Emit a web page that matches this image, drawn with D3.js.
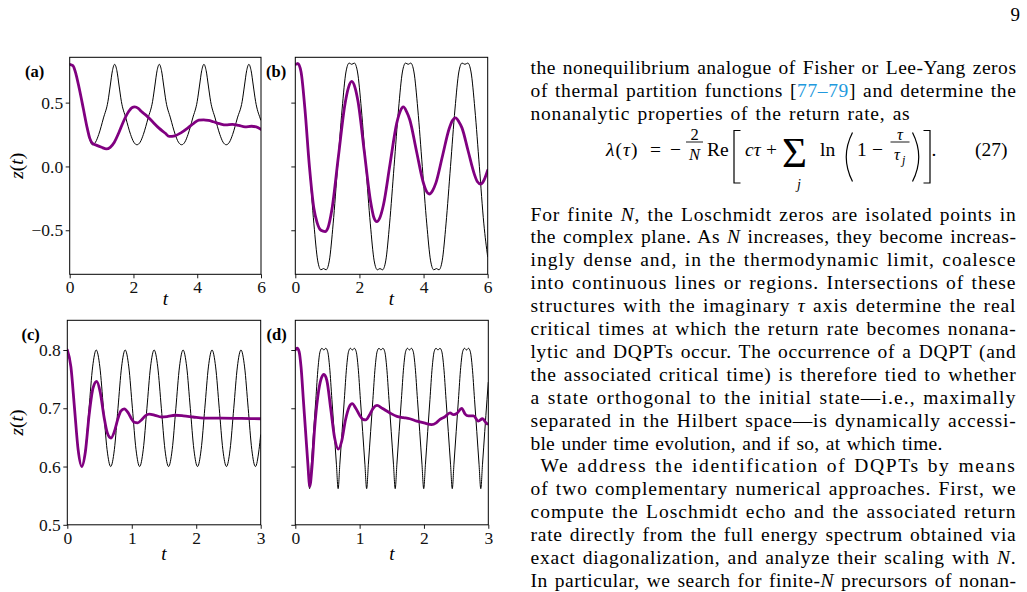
<!DOCTYPE html>
<html lang="en">
<head>
<meta charset="UTF-8" />
<title>z(t) panels</title>
<style>
  body { margin: 0; background: #fff; }
  svg text { font-family: "Liberation Serif", "Times New Roman", serif; }
</style>
</head>
<body>
<svg id="page" width="1027" height="592"></svg>
<script src="https://d3js.org/d3.v7.min.js"></script>
<script>
// ---- data: [t, z(t)] ----
var blackA = [[0,0.80],[0.1,0.79],[0.2,0.72],[0.3,0.61],[0.43,0.45],[0.55,0.30],[0.63,0.21],[0.71,0.17],
  [0.81,0.19],[0.91,0.25],[1.06,0.38],[1.20,0.51],[1.27,0.63],[1.34,0.75],[1.41,0.80],
  [1.48,0.75],[1.55,0.63],[1.62,0.51],[1.76,0.38],[1.91,0.25],[2.01,0.19],[2.11,0.17],
  [2.21,0.19],[2.31,0.25],[2.46,0.38],[2.60,0.51],[2.67,0.63],[2.74,0.75],[2.81,0.80],
  [2.88,0.75],[2.95,0.63],[3.02,0.51],[3.16,0.38],[3.31,0.25],[3.41,0.19],[3.51,0.17],
  [3.61,0.19],[3.71,0.25],[3.86,0.38],[4.00,0.51],[4.07,0.63],[4.14,0.75],[4.21,0.80],
  [4.28,0.75],[4.35,0.63],[4.42,0.51],[4.56,0.38],[4.71,0.25],[4.81,0.19],[4.91,0.17],
  [5.01,0.19],[5.11,0.25],[5.26,0.38],[5.41,0.51],[5.48,0.63],[5.55,0.75],[5.62,0.80],
  [5.69,0.75],[5.76,0.63],[5.83,0.51],[5.97,0.38],[6.0,0.36]];
var purpleA = [[0,0.80],[0.1,0.79],[0.2,0.72],[0.3,0.61],[0.43,0.45],[0.55,0.30],[0.63,0.22],[0.72,0.18],
  [0.85,0.165],[1.0,0.15],[1.15,0.138],[1.27,0.15],[1.4,0.19],[1.55,0.27],[1.7,0.36],[1.85,0.43],
  [1.95,0.46],[2.04,0.466],[2.15,0.455],[2.25,0.43],[2.4,0.40],[2.6,0.35],[2.8,0.30],[3.0,0.26],
  [3.12,0.235],[3.3,0.24],[3.5,0.265],[3.7,0.30],[3.9,0.34],[4.05,0.362],[4.2,0.365],[4.35,0.36],
  [4.5,0.35],[4.7,0.335],[4.9,0.325],[5.1,0.33],[5.3,0.322],[5.5,0.31],[5.7,0.315],[5.85,0.31],[6.0,0.29]];

var blackB = [[0,0.80],[0.08,0.81],[0.18,0.74],[0.30,0.45],[0.44,0],[0.58,-0.45],[0.70,-0.74],[0.80,-0.81],
  [0.88,-0.80],[0.96,-0.81],[1.06,-0.74],[1.18,-0.45],[1.32,0],[1.46,0.45],[1.58,0.74],[1.68,0.81],
  [1.76,0.80],[1.84,0.81],[1.94,0.74],[2.06,0.45],[2.20,0],[2.34,-0.45],[2.46,-0.74],[2.56,-0.81],
  [2.64,-0.80],[2.72,-0.81],[2.82,-0.74],[2.94,-0.45],[3.08,0],[3.22,0.45],[3.34,0.74],[3.44,0.81],
  [3.52,0.80],[3.60,0.81],[3.70,0.74],[3.82,0.45],[3.96,0],[4.10,-0.45],[4.22,-0.74],[4.32,-0.81],
  [4.40,-0.80],[4.48,-0.81],[4.58,-0.74],[4.70,-0.45],[4.84,0],[4.98,0.45],[5.10,0.74],[5.20,0.81],
  [5.29,0.80],[5.38,0.81],[5.48,0.74],[5.60,0.45],[5.74,0],[5.88,-0.45],[6.0,-0.71]];
var purpleB = [[0,0.80],[0.08,0.805],[0.18,0.74],[0.30,0.45],[0.44,0.0],[0.58,-0.33],[0.68,-0.44],[0.80,-0.50],
  [0.93,-0.51],[1.02,-0.48],[1.14,-0.34],[1.345,0.08],[1.55,0.49],[1.66,0.62],[1.76,0.666],[1.86,0.62],
  [1.955,0.51],[2.15,0.12],[2.345,-0.27],[2.45,-0.40],[2.54,-0.433],[2.64,-0.40],[2.75,-0.30],[2.955,0.02],
  [3.16,0.335],[3.27,0.43],[3.37,0.466],[3.47,0.43],[3.57,0.366],[3.775,0.125],[3.98,-0.116],[4.08,-0.19],
  [4.18,-0.216],[4.28,-0.19],[4.385,-0.129],[4.59,0.082],[4.795,0.293],[4.90,0.36],[5.00,0.38],[5.10,0.35],
  [5.195,0.304],[5.39,0.121],[5.585,-0.062],[5.68,-0.12],[5.78,-0.138],[5.88,-0.11],[6.0,-0.03]];

var blackC = [[0,0.80],[0.056,0.771],[0.112,0.70],[0.168,0.629],[0.224,0.60],[0.281,0.629],[0.337,0.70],[0.393,0.771],
  [0.449,0.80],[0.505,0.771],[0.561,0.70],[0.617,0.629],[0.673,0.60],[0.730,0.629],[0.786,0.70],[0.842,0.771],
  [0.898,0.80],[0.954,0.771],[1.010,0.70],[1.066,0.629],[1.122,0.60],[1.178,0.629],[1.235,0.70],[1.291,0.771],
  [1.347,0.80],[1.403,0.771],[1.459,0.70],[1.515,0.629],[1.571,0.60],[1.627,0.629],[1.684,0.70],[1.740,0.771],
  [1.796,0.80],[1.852,0.771],[1.908,0.70],[1.964,0.629],[2.020,0.60],[2.076,0.629],[2.133,0.70],[2.189,0.771],
  [2.245,0.80],[2.301,0.771],[2.357,0.70],[2.413,0.629],[2.469,0.60],[2.525,0.629],[2.582,0.70],[2.638,0.771],
  [2.694,0.80],[2.750,0.771],[2.806,0.70],[2.862,0.629],[2.918,0.60],[2.974,0.629],[3.0,0.655]];
var purpleC = [[0,0.80],[0.056,0.771],[0.112,0.70],[0.168,0.629],[0.224,0.60],[0.28,0.625],[0.34,0.69],[0.40,0.735],
  [0.456,0.746],[0.51,0.728],[0.57,0.685],[0.62,0.658],[0.678,0.649],[0.73,0.66],[0.78,0.68],[0.83,0.695],
  [0.884,0.699],[0.94,0.693],[0.99,0.683],[1.04,0.676],[1.09,0.675],[1.15,0.68],[1.21,0.687],[1.27,0.690],
  [1.36,0.688],[1.46,0.685],[1.56,0.686],[1.67,0.688],[1.80,0.687],[1.95,0.685],[2.11,0.683],[2.4,0.683],
  [2.7,0.6825],[3.0,0.682]];

var blackD = [[0,0.80],[0.03,0.803],[0.06,0.797],[0.09,0.77],[0.125,0.715],[0.16,0.66],[0.195,0.604],[0.222,0.562],
  [0.249,0.604],[0.284,0.66],[0.319,0.715],[0.354,0.77],[0.384,0.797],[0.414,0.803],[0.444,0.80],[0.474,0.803],[0.504,0.797],[0.534,0.77],[0.569,0.715],[0.604,0.66],[0.639,0.604],[0.666,0.562],
  [0.692,0.604],[0.727,0.66],[0.762,0.715],[0.797,0.77],[0.827,0.797],[0.857,0.803],[0.887,0.80],[0.917,0.803],[0.947,0.797],[0.977,0.77],[1.012,0.715],[1.047,0.66],[1.082,0.604],[1.109,0.562],
  [1.136,0.604],[1.171,0.66],[1.206,0.715],[1.241,0.77],[1.271,0.797],[1.301,0.803],[1.331,0.80],[1.361,0.803],[1.391,0.797],[1.421,0.77],[1.456,0.715],[1.491,0.66],[1.526,0.604],[1.553,0.562],
  [1.579,0.604],[1.614,0.66],[1.649,0.715],[1.684,0.77],[1.714,0.797],[1.744,0.803],[1.774,0.80],[1.804,0.803],[1.834,0.797],[1.864,0.77],[1.899,0.715],[1.934,0.66],[1.969,0.604],[1.996,0.562],
  [2.023,0.604],[2.058,0.66],[2.093,0.715],[2.128,0.77],[2.158,0.797],[2.188,0.803],[2.218,0.80],[2.248,0.803],[2.278,0.797],[2.308,0.77],[2.343,0.715],[2.378,0.66],[2.413,0.604],[2.440,0.562],
  [2.466,0.604],[2.501,0.66],[2.536,0.715],[2.571,0.77],[2.601,0.797],[2.631,0.803],[2.661,0.80],[2.691,0.803],[2.721,0.797],[2.751,0.77],[2.786,0.715],[2.821,0.66],[2.856,0.604],[2.883,0.562],
  [2.910,0.604],[2.945,0.66],[2.980,0.715],[3.0,0.745]];
var purpleD = [[0,0.80],[0.03,0.803],[0.06,0.797],[0.09,0.77],[0.125,0.715],[0.16,0.66],[0.195,0.605],[0.225,0.566],
  [0.26,0.60],[0.30,0.665],[0.35,0.72],[0.40,0.75],[0.445,0.758],[0.49,0.748],[0.55,0.70],[0.61,0.65],
  [0.67,0.63],[0.72,0.643],[0.78,0.68],[0.84,0.703],[0.885,0.708],[0.94,0.70],[1.00,0.688],[1.05,0.681],
  [1.095,0.680],[1.15,0.688],[1.21,0.700],[1.27,0.705],[1.35,0.700],[1.47,0.692],[1.58,0.686],[1.68,0.684],
  [1.78,0.682],[1.887,0.678],[2.0,0.675],[2.12,0.672],[2.19,0.675],[2.25,0.681],[2.32,0.685],[2.405,0.692],
  [2.46,0.689],[2.51,0.691],[2.587,0.70],[2.64,0.69],[2.69,0.687],[2.77,0.687],[2.845,0.678],[2.91,0.682],
  [2.975,0.674],[3.0,0.673]];

var xTicksTop = [0, 2, 4, 6];
var yTicksTop = [-0.5, 0, 0.5];
var xTicksBottom = [0, 1, 2, 3];
var yTicksBottom = [0.5, 0.6, 0.7, 0.8];

var svg = d3.select("#page");
svg.append("rect").attr("width", 1027).attr("height", 592).attr("fill", "#fff");

var fmtY = function(d) { return (d < 0 ? "\u2212" : "") + Math.abs(d).toFixed(1); };

function drawPanel(p) {
  var x = d3.scaleLinear().domain(p.xDomain).range([p.left, p.right]);
  var y = d3.scaleLinear().domain(p.yDomain).range([p.bottom, p.top]);
  var g = svg.append("g");

  svg.append("clipPath").attr("id", "clip-" + p.name)
    .append("rect").attr("x", p.left).attr("y", p.top)
    .attr("width", p.right - p.left).attr("height", p.bottom - p.top);

  var line = d3.line().x(function(d) { return x(d[0]); }).y(function(d) { return y(d[1]); })
    .curve(d3.curveMonotoneX);

  g.append("path").datum(p.black).attr("d", line)
    .attr("clip-path", "url(#clip-" + p.name + ")")
    .attr("fill", "none").attr("stroke", "#000").attr("stroke-width", 1);
  g.append("path").datum(p.purple).attr("d", line)
    .attr("clip-path", "url(#clip-" + p.name + ")")
    .attr("fill", "none").attr("stroke", "#800080").attr("stroke-width", 2.8)
    .attr("stroke-linejoin", "round").attr("stroke-linecap", "round");

  var gx = g.append("g").attr("transform", "translate(0," + p.bottom + ")")
    .call(d3.axisBottom(x).tickValues(p.xTicks).tickSize(4).tickPadding(2.5).tickFormat(d3.format("d")));
  var gy = g.append("g").attr("transform", "translate(" + p.left + ",0)")
    .call(d3.axisLeft(y).tickValues(p.yTicks).tickSize(4).tickPadding(2.5)
      .tickFormat(p.yLabels ? fmtY : function() { return ""; }));
  [gx, gy].forEach(function(a) {
    a.select(".domain").remove();
    a.attr("font-family", "Liberation Serif, serif").attr("font-size", 17.5);
    a.selectAll("line").attr("stroke", "#000").attr("stroke-width", 0.9);
    a.selectAll("text").attr("fill", "#111");
  });

  g.append("rect").attr("x", p.left).attr("y", p.top)
    .attr("width", p.right - p.left).attr("height", p.bottom - p.top)
    .attr("fill", "none").attr("stroke", "#000").attr("stroke-width", 1);

  // x label
  g.append("text").attr("x", (p.left + p.right) / 2).attr("y", p.xLabelY)
    .attr("text-anchor", "middle").attr("font-size", 19).attr("font-style", "italic").text("t");

  // y label
  if (p.yLabels) {
    var yl = g.append("text")
      .attr("transform", "translate(22.5," + ((p.top + p.bottom) / 2) + ") rotate(-90)")
      .attr("text-anchor", "middle").attr("font-size", 19.5);
    yl.append("tspan").attr("font-style", "italic").text("z");
    yl.append("tspan").text("(");
    yl.append("tspan").attr("font-style", "italic").text("t");
    yl.append("tspan").text(")");
  }

  // panel tag
  g.append("text").attr("x", p.tagX).attr("y", p.tagY)
    .attr("font-size", 16.5).attr("font-weight", "bold").text(p.tag);
}

drawPanel({ name: "a", left: 69.7, right: 261, top: 57.3, bottom: 274.3,
  xDomain: [0, 6], yDomain: [-0.845, 0.855], xTicks: xTicksTop, yTicks: yTicksTop,
  yLabels: true, black: blackA, purple: purpleA, xLabelY: 305, tag: "(a)", tagX: 25, tagY: 77 });
drawPanel({ name: "b", left: 295.3, right: 487.7, top: 57.3, bottom: 274.3,
  xDomain: [0, 6], yDomain: [-0.845, 0.855], xTicks: xTicksTop, yTicks: yTicksTop,
  yLabels: false, black: blackB, purple: purpleB, xLabelY: 305, tag: "(b)", tagX: 266, tagY: 77 });
drawPanel({ name: "c", left: 67.3, right: 260.7, top: 320.3, bottom: 524.8,
  xDomain: [0, 3], yDomain: [0.5, 0.851], xTicks: xTicksBottom, yTicks: yTicksBottom,
  yLabels: true, black: blackC, purple: purpleC, xLabelY: 560, tag: "(c)", tagX: 21.5, tagY: 340 });
drawPanel({ name: "d", left: 295.3, right: 488.3, top: 320.3, bottom: 524.8,
  xDomain: [0, 3], yDomain: [0.5, 0.851], xTicks: xTicksBottom, yTicks: yTicksBottom,
  yLabels: false, black: blackD, purple: purpleD, xLabelY: 560, tag: "(d)", tagX: 266.5, tagY: 340 });

// ---- page text ----
var FS = 19.5;
svg.append("text").attr("x", 1010.5).attr("y", 20.5).attr("font-size", 19).text("9");

var textLeft = 530.5, textRight = 1016.5;
var bodyLines = [
  { y: 74, parts: [["the nonequilibrium analogue of Fisher or Lee-Yang zeros"]] },
  { y: 97, parts: [["of thermal partition functions ["], ["77\u201379", "c"], ["] and determine the"]] },
  { y: 120, parts: [["nonanalytic properties of the return rate, as"]], w: 380 },
  { y: 220.5, parts: [["For finite "], ["N", "i"], [", the Loschmidt zeros are isolated points in"]] },
  { y: 243.4, parts: [["the complex plane. As "], ["N", "i"], [" increases, they become increas-"]] },
  { y: 266.3, parts: [["ingly dense and, in the thermodynamic limit, coalesce"]] },
  { y: 289.2, parts: [["into continuous lines or regions. Intersections of these"]] },
  { y: 312.1, parts: [["structures with the imaginary "], ["\u03c4", "i"], [" axis determine the real"]] },
  { y: 335.0, parts: [["critical times at which the return rate becomes nonana-"]] },
  { y: 357.9, parts: [["lytic and DQPTs occur. The occurrence of a DQPT (and"]] },
  { y: 380.8, parts: [["the associated critical time) is therefore tied to whether"]] },
  { y: 403.7, parts: [["a state orthogonal to the initial state\u2014i.e., maximally"]] },
  { y: 426.6, parts: [["separated in the Hilbert space\u2014is dynamically accessi-"]] },
  { y: 449.5, parts: [["ble under time evolution, and if so, at which time."]], w: 412 },
  { y: 472.4, parts: [["We address the identification of DQPTs by means"]], indent: 10 },
  { y: 495.3, parts: [["of two complementary numerical approaches. First, we"]] },
  { y: 518.2, parts: [["compute the Loschmidt echo and the associated return"]] },
  { y: 541.1, parts: [["rate directly from the full energy spectrum obtained via"]] },
  { y: 564.0, parts: [["exact diagonalization, and analyze their scaling with "], ["N", "i"], ["."]] },
  { y: 586.9, parts: [["In particular, we search for finite-"], ["N", "i"], [" precursors of nonan-"]] }
];

bodyLines.forEach(function(l) {
  var x0 = textLeft + (l.indent || 0);
  var target = l.w || (textRight - x0);
  var t = svg.append("text").attr("x", x0).attr("y", l.y).attr("font-size", FS).attr("fill", "#000")
    .attr("xml:space", "preserve").style("white-space", "pre");
  var full = "";
  l.parts.forEach(function(pt) {
    var s = t.append("tspan").text(pt[0]);
    if (pt[1] === "i") s.attr("font-style", "italic");
    if (pt[1] === "c") s.attr("fill", "#2299dd");
    full += pt[0];
  });
  var spaces = (full.match(/ /g) || []).length;
  var len = t.node().getComputedTextLength();
  var extra = target - len;
  // spread most of the slack over the letters, a little over the word gaps
  var ws0 = Math.min(1.5, Math.max(0, extra) / Math.max(spaces, 1));
  var ls = Math.max(0, (extra - ws0 * spaces) / full.length);
  t.style("letter-spacing", ls + "px");
  var len1 = t.node().getComputedTextLength();
  if (spaces > 0) {
    var ws = (target - len1) / spaces;
    if (ws < -1) ws = -1;
    t.style("word-spacing", ws + "px");
  }
});

// ---- equation (27) ----
function eq(x, y, parts, opts) {
  opts = opts || {};
  var t = svg.append("text").attr("x", x).attr("y", y).attr("font-size", opts.size || FS)
    .attr("text-anchor", opts.anchor || "start").attr("xml:space", "preserve").style("white-space", "pre");
  parts.forEach(function(pt) {
    var s = t.append("tspan").text(pt[0]);
    if (pt[1] === "i") s.attr("font-style", "italic");
  });
  return t;
}
function stroke(d, w) {
  svg.append("path").attr("d", d).attr("fill", "none").attr("stroke", "#000").attr("stroke-width", w || 1.1);
}
var eqY = 155.5;
eq(606, eqY, [["\u03bb", "i"], ["("], ["\u03c4", "i"], [")"]]).style("letter-spacing", "1px");
eq(650, eqY, [["="]]);
eq(670, eqY, [["\u2212"]]);
eq(694.5, 139.5, [["2"]], { anchor: "middle", size: 16.5 });
stroke("M686,142H703", 0.9);
eq(694.5, 160, [["N", "i"]], { anchor: "middle", size: 16.5 });
eq(707, eqY, [["Re"]]);
stroke("M740.5,130.5H734V183H740.5", 1.2);
eq(745, eqY, [["c", "i"], ["\u03c4", "i"]]);
eq(766, eqY, [["+"]]);
eq(782, 167, [["\u03a3"]], { size: 43 });
eq(799, 189, [["j", "i"]], { size: 14, anchor: "middle" });
eq(820, eqY, [["ln"]]);
stroke("M852.5,132.5Q840,157 852.5,181.5", 1.2);
eq(857, eqY, [["1"]]);
eq(872, eqY, [["\u2212"]]);
eq(900, 139.5, [["\u03c4", "i"]], { anchor: "middle", size: 16.5 });
stroke("M890.5,142H909.5", 0.9);
eq(894, 159.5, [["\u03c4", "i"]], { size: 16.5 });
eq(902, 163.5, [["j", "i"]], { size: 12 });
stroke("M912.5,132.5Q925,157 912.5,181.5", 1.2);
stroke("M923.5,130.5H930V183H923.5", 1.2);
eq(931.5, eqY, [["."]]);
eq(975, eqY, [["(27)"]]);
</script>
</body>
</html>
